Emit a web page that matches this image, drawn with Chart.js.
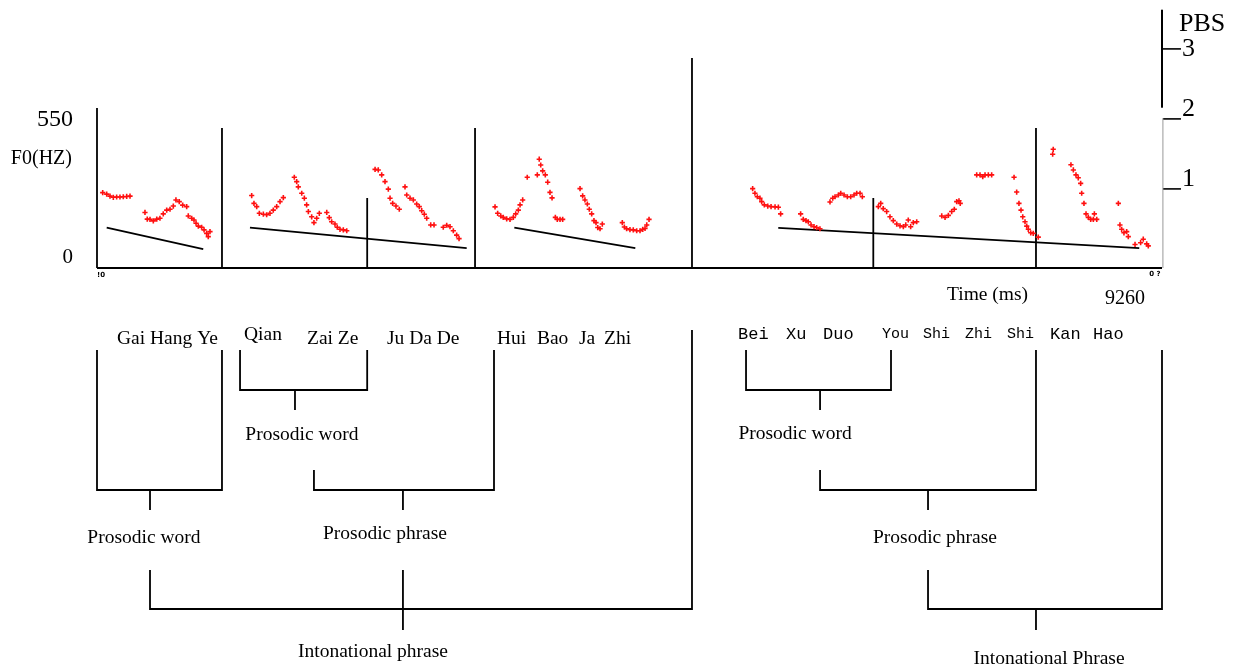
<!DOCTYPE html>
<html>
<head>
<meta charset="utf-8">
<script src="https://cdn.jsdelivr.net/npm/chart.js@4.4.1/dist/chart.umd.min.js"></script>
<style>
    html, body { margin: 0; padding: 0; background: #fff; overflow: hidden; }
    canvas { display: block; }
</style>
</head>
<body>
<canvas id="prosody" width="1235" height="668" style="width:1235px;height:668px"></canvas>
<script>
// F0 contour, [time ms, F0 Hz], one list per intonation stretch
const f0Seg1 = [[50,259],[85,254],[114,247],[143,243],[172,244],[201,244],[230,245],[260,246],[289,247],
    [420,191],[440,168],[464,167],[493,162],[523,168],[551,171],[580,186],[610,199],[639,202],[668,213],[691,234],
    [720,228],[750,216],[785,211],[799,179],[829,171],[849,165],[867,154],[887,144],[916,140],[937,131],[960,119],
    [974,108],[989,125]];
const f0Seg2 = [[1354,249],[1374,222],[1398,211],[1421,188],[1456,185],[1485,183],[1514,188],[1543,199],[1573,211],
    [1602,228],[1631,242],[1727,312],[1748,297],[1762,279],[1792,257],[1815,240],[1835,217],[1850,194],[1879,176],
    [1899,156],[1923,171],[1946,188],[2011,191],[2033,173],[2054,159],[2083,151],[2103,140],[2127,133],[2156,131],
    [2186,128],[2434,339],[2462,337],[2492,320],[2521,297],[2550,271],[2565,240],[2588,222],[2617,213],[2646,202],
    [2696,279],[2711,251],[2740,240],[2769,234],[2798,220],[2821,211],[2842,197],[2865,185],[2886,171],[2921,148],
    [2950,148],[3031,140],[3061,147],[3090,142],[3119,128],[3148,113],[3169,101]];
const f0Seg3 = [[3484,210],[3507,188],[3534,179],[3556,174],[3586,169],[3615,167],[3644,174],[3665,186],[3688,199],
    [3703,217],[3726,234],[3766,312],[3854,320],[3871,374],[3884,354],[3901,334],[3924,320],[3945,295],[3965,260],
    [3983,241],[4012,174],[4029,167],[4053,167],[4076,167],[4228,273],[4251,248],[4271,234],[4292,220],[4309,202],
    [4330,186],[4350,163],[4368,156],[4383,139],[4403,135],[4423,151],[4598,156],[4616,141],[4636,135],[4665,132],
    [4694,131],[4724,128],[4753,128],[4777,133],[4797,136],[4812,148],[4832,167]];
const f0Seg4 = [[5739,273],[5759,257],[5780,245],[5803,240],[5818,228],[5841,217],[5871,213],[5900,211],[5935,210],
    [5964,209],[5984,186],[6159,186],[6182,167],[6206,163],[6226,159],[6250,148],[6276,142],[6299,139],[6328,135],
    [6416,227],[6440,240],[6460,245],[6489,251],[6510,257],[6539,251],[6568,245],[6597,245],[6626,251],[6650,257],
    [6679,257],[6699,245],[6839,211],[6860,222],[6882,204],[6912,194],[6941,176],[6970,163],[7000,151],[7029,145],
    [7058,142],[7079,148],[7101,165],[7122,142],[7145,156],[7175,159],[7394,179],[7423,174],[7452,181],[7481,194],
    [7504,202],[7525,228],[7545,231],[7556,222],[7700,320],[7729,320],[7753,314],[7773,320],[7802,320],[7831,320],
    [8027,312],[8050,261],[8070,222],[8088,199],[8103,176],[8123,159],[8138,144],[8152,133],[8173,121],[8195,119],
    [8239,106],[8365,391],[8370,408],[8525,355],[8546,337],[8569,320],[8589,310],[8610,291],[8619,257],[8639,222],
    [8657,186],[8677,174],[8698,167],[8721,167],[8730,186],[8751,167],[8940,222],[8954,148],[8969,133],[8989,121],
    [9013,125],[9027,108],[9086,81],[9135,87],[9158,99],[9188,83],[9202,76]];

// declination lines (start/end time, start/end F0)
const declTimes = [[85, 930], [1339, 3236], [3653, 4712], [5963, 9123]];
const declHz = [[139, 65], [139, 68], [139, 68], [138, 68]];

// prosodic boundaries and their break strength
const boundaryTimes = [1094, 2365, 3309, 5208, 6795, 8219];
const boundaryPbs = [2, 1, 2, 3, 1, 2];
const pbsTicks = ['1', '2', '3'];

const totalTime = 9260;
const f0Ticks = ['550', '0'];

const syllables = ['Gai Hang Ye', 'Qian', 'Zai Ze', 'Ju Da De', 'Hui', 'Bao', 'Ja', 'Zhi',
    'Bei', 'Xu', 'Duo', 'You', 'Shi', 'Zhi', 'Shi', 'Kan', 'Hao'];

// ---- layout (time in ms on x, rows on the layout axis) ----
const syllableStart = [175, 1287, 1838, 2538, 3501, 3851, 4219, 4438, 5611, 6031, 6355, 6871, 7230, 7598, 7965, 8342, 8718];
const syllableFont = ['s', 's', 's', 's', 's', 's', 's', 's', 'm', 'm', 'm', 'ms', 'ms', 'ms', 'ms', 'm', 'm'];
const syllableRow = [337, 333, 337, 337, 337, 337, 337, 337, 332, 332, 332, 332, 332, 332, 332, 332, 332];

// l/r: bracket feet, lt/rt: top rows, bar: row of the bar, stem: x of the stem
const brackets = [
    { l: 0, r: 1094, lt: 350, rt: 350, bar: 490, stem: 464, st: 490, se: 510, label: 'Prosodic word', lx: 411, ly: 536 },
    { l: 1252, r: 2365, lt: 350, rt: 350, bar: 390, stem: 1733, st: 390, se: 410, label: 'Prosodic word', lx: 1794, ly: 433 },
    { l: 1899, r: 3475, lt: 470, rt: 350, bar: 490, stem: 2678, st: 490, se: 510, label: 'Prosodic phrase', lx: 2521, ly: 532 },
    { l: 464, r: 5208, lt: 570, rt: 330, bar: 609, stem: 2678, st: 570, se: 630, label: 'Intonational phrase', lx: 2416, ly: 650 },
    { l: 5681, r: 6950, lt: 350, rt: 350, bar: 390, stem: 6329, st: 390, se: 410, label: 'Prosodic word', lx: 6110, ly: 432 },
    { l: 6329, r: 8219, lt: 470, rt: 350, bar: 490, stem: 7274, st: 490, se: 510, label: 'Prosodic phrase', lx: 7335, ly: 536 },
    { l: 7274, r: 9322, lt: 570, rt: 350, bar: 609, stem: 8219, st: 609, se: 630, label: 'Intonational Phrase', lx: 8333, ly: 657 }
];

const SERIF = '"Liberation Serif", "Times New Roman", serif';
const MONO = '"Liberation Mono", "Courier New", monospace';
const fonts = { s: '19.5px ' + SERIF, m: '17px ' + MONO, ms: '15px ' + MONO };

const texts = [];
syllables.forEach((s, i) => texts.push({ text: s, x: syllableStart[i], y: syllableRow[i], font: fonts[syllableFont[i]] }));
brackets.forEach(b => texts.push({ text: b.label, x: b.lx, y: b.ly, font: fonts.s, align: 'center' }));
texts.push({ text: f0Ticks[0], x: -210, y: 118, font: '24px ' + SERIF, align: 'right' });
texts.push({ text: 'F0(HZ)', x: -219, y: 157, font: '20px ' + SERIF, align: 'right' });
texts.push({ text: f0Ticks[1], x: -210, y: 255, font: '21px ' + SERIF, align: 'right' });
texts.push({ text: 'Time (ms)', x: 7440, y: 293, font: '19.5px ' + SERIF });
texts.push({ text: String(totalTime), x: 8823, y: 297, font: '20px ' + SERIF });
texts.push({ text: '!0', x: 0, y: 273, font: 'bold 7px "DejaVu Sans", sans-serif', align: 'left' });
texts.push({ text: '0 ?', x: totalTime, y: 272, font: 'bold 7px "DejaVu Sans", sans-serif', align: 'center' });
texts.push({ text: 'PBS', x: 9471, y: 22, font: '26px ' + SERIF });
const pbsLabelRow = [177, 107, 47];
pbsTicks.forEach((t, i) => texts.push({ text: t, x: 9497, y: pbsLabelRow[i], font: '26px ' + SERIF }));

// ---- datasets ----
function seg(points, axis, color, width) {
    return {
        data: points.map(p => ({ x: p[0], y: p[1] })),
        yAxisID: axis,
        showLine: true,
        pointRadius: 0,
        borderColor: color || '#000',
        borderWidth: width || 1.8,
        fill: false
    };
}

const datasets = [];
[f0Seg1, f0Seg2, f0Seg3, f0Seg4].forEach(s => {
    datasets.push({
        data: s.map(p => ({ x: p[0], y: p[1] })),
        yAxisID: 'y',
        pointStyle: 'cross',
        pointRadius: 2.6,
        pointBorderWidth: 1.6,
        borderColor: '#ff1010',
        backgroundColor: '#ff1010'
    });
});
declTimes.forEach((t, i) => datasets.push(seg([[t[0], declHz[i][0]], [t[1], declHz[i][1]]], 'y')));
boundaryTimes.forEach((t, i) => datasets.push(seg([[t, 0], [t, boundaryPbs[i]]], 'pbs')));

// axes of the F0 panel
datasets.push(seg([[0, 0], [0, 550]], 'y', '#000', 1.8));
datasets.push(seg([[0, 0], [9322, 0]], 'y', '#000', 1.8));
datasets.push(seg([[9322, 2.29], [9322, 3.69]], 'pbs', '#000', 2));
datasets.push(seg([[9330, 0], [9330, 2.14]], 'pbs', '#999', 1));
pbsTicks.forEach((t, i) => datasets.push(seg([[9330, i + 1.13], [9488, i + 1.13]], 'pbs', '#000', 1.6)));

// prosodic tree
brackets.forEach(b => {
    datasets.push(seg([[b.l, b.lt], [b.l, b.bar], [b.r, b.bar], [b.r, b.rt]], 'ty'));
    datasets.push(seg([[b.stem, b.st], [b.stem, b.se]], 'ty'));
});

// text is centred on its row; glyphs sit a bit high on 'middle', so nudge down
const TEXT_NUDGE = 2;

const textPlugin = {
    id: 'texts',
    afterDraw(chart) {
        const ctx = chart.ctx;
        const sx = chart.scales.x;
        const sy = chart.scales.ty;
        ctx.save();
        ctx.fillStyle = '#000';
        ctx.textBaseline = 'middle';
        texts.forEach(t => {
            ctx.font = t.font;
            ctx.textAlign = t.align || 'left';
            ctx.fillText(t.text, sx.getPixelForValue(t.x), sy.getPixelForValue(t.y) + TEXT_NUDGE);
        });
        ctx.restore();
    }
};

new Chart(document.getElementById('prosody'), {
    type: 'scatter',
    data: { datasets: datasets },
    options: {
        responsive: false,
        animation: false,
        layout: { padding: 0, autoPadding: false },
        plugins: { legend: { display: false }, tooltip: { enabled: false } },
        scales: {
            x: { type: 'linear', min: -849, max: 9961, display: false },
            y: { type: 'linear', min: -1375, max: 921.25, display: false },
            pbs: { type: 'linear', axis: 'y', min: -5.714, max: 3.8286, display: false },
            ty: { type: 'linear', axis: 'y', min: 0, max: 668, reverse: true, display: false }
        }
    },
    plugins: [textPlugin]
});
</script>
</body>
</html>
